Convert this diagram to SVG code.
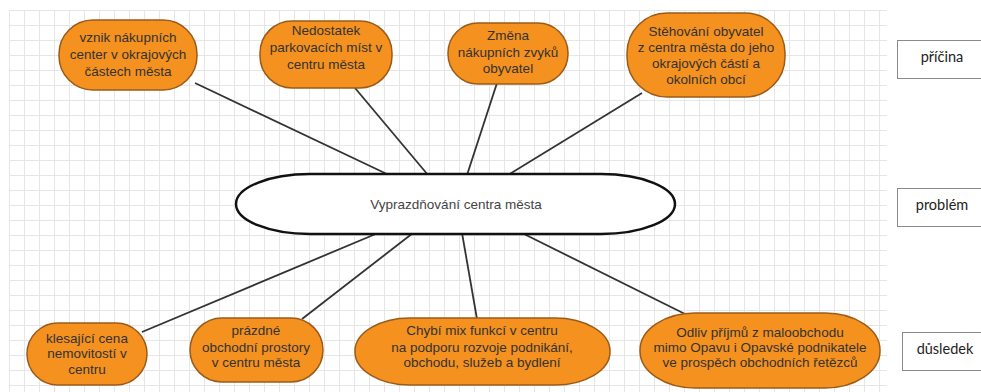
<svg xmlns="http://www.w3.org/2000/svg" width="981" height="392" viewBox="0 0 981 392">
<defs>
<pattern id="grid" x="9" y="10" width="15" height="15" patternUnits="userSpaceOnUse">
<path d="M0 0.5 H15 M0.5 0 V15" stroke="#e6e6e6" stroke-width="1" fill="none"/>
</pattern>
<style>
.node rect{fill:#F4911F;stroke:#9A5B1A;stroke-width:1.5}
.nt{font-family:"Liberation Sans",Arial,sans-serif;font-size:13.5px;fill:#333;text-anchor:middle}
.ct{font-family:"Liberation Sans",Arial,sans-serif;font-size:13.5px;fill:#444;text-anchor:middle}
.lab rect{fill:#fff;stroke:#8a8a8a;stroke-width:1}
.lt{font-family:Lato,"Open Sans",sans-serif;font-size:14.5px;fill:#222;text-anchor:middle}
.conn line{stroke:#333;stroke-width:1.8}
</style>
</defs>
<rect width="981" height="392" fill="#fff"/>
<rect x="9" y="10" width="878" height="382" fill="url(#grid)"/>

<g class="conn" id="connectors">
<line x1="195" y1="83" x2="389" y2="175"/>
<line x1="355" y1="88" x2="428" y2="175"/>
<line x1="497" y1="83" x2="467" y2="175"/>
<line x1="642" y1="93" x2="508" y2="175"/>
<line x1="378" y1="233" x2="142" y2="332"/>
<line x1="413" y1="233" x2="302" y2="319"/>
<line x1="462" y1="233" x2="477" y2="319"/>
<line x1="522" y1="233" x2="685" y2="314"/>
</g>

<g id="center">
<rect x="236" y="174" width="439" height="60" rx="74" ry="30" fill="#fff" stroke="#111" stroke-width="2.5"/>
<text class="ct" x="456" y="209">Vyprazdňování centra města</text>
</g>

<g class="node" id="n1">
<rect x="59" y="20" width="138" height="70" rx="34" ry="34"/>
<text class="nt" x="128" y="42">vznik nákupních</text>
<text class="nt" x="128" y="59">center v okrajových</text>
<text class="nt" x="128" y="76">částech města</text>
</g>
<g class="node" id="n2">
<rect x="260" y="21" width="132" height="67" rx="32" ry="32"/>
<text class="nt" x="326" y="35">Nedostatek</text>
<text class="nt" x="326" y="52">parkovacích míst v</text>
<text class="nt" x="326" y="69">centru města</text>
</g>
<g class="node" id="n3">
<rect x="448" y="23" width="120" height="61" rx="30" ry="30"/>
<text class="nt" x="508" y="40">Změna</text>
<text class="nt" x="508" y="57">nákupních zvyků</text>
<text class="nt" x="508" y="73">obyvatel</text>
</g>
<g class="node" id="n4">
<rect x="627" y="13" width="158" height="84" rx="40" ry="40"/>
<text class="nt" x="706" y="36">Stěhování obyvatel</text>
<text class="nt" x="706" y="52">z centra města do jeho</text>
<text class="nt" x="706" y="68">okrajových částí a</text>
<text class="nt" x="706" y="84">okolních obcí</text>
</g>

<g class="node" id="n5">
<rect x="27" y="323" width="120" height="62" rx="31" ry="31"/>
<text class="nt" x="87" y="343">klesající cena</text>
<text class="nt" x="87" y="358">nemovitostí v</text>
<text class="nt" x="87" y="374">centru</text>
</g>
<g class="node" id="n6">
<rect x="190" y="318" width="133" height="64" rx="32" ry="32"/>
<text class="nt" x="256" y="335">prázdné</text>
<text class="nt" x="256" y="352">obchodní prostory</text>
<text class="nt" x="256" y="367">v centru města</text>
</g>
<g class="node" id="n7">
<rect x="355" y="318" width="255" height="67" rx="55" ry="33"/>
<text class="nt" x="482" y="335">Chybí mix funkcí v centru</text>
<text class="nt" x="482" y="352">na podporu rozvoje podnikání,</text>
<text class="nt" x="482" y="367">obchodu, služeb a bydlení</text>
</g>
<g class="node" id="n8">
<rect x="640" y="313" width="240" height="75" rx="55" ry="37"/>
<text class="nt" x="760" y="337">Odliv příjmů z maloobchodu</text>
<text class="nt" x="760" y="352">mimo Opavu i Opavské podnikatele</text>
<text class="nt" x="760" y="367">ve prospěch obchodních řetězců</text>
</g>

<g class="lab" id="l1">
<rect x="897.5" y="40.5" width="90" height="38"/>
<text class="lt" x="942" y="62">příčina</text>
</g>
<g class="lab" id="l2">
<rect x="897.5" y="188.5" width="90" height="38"/>
<text class="lt" x="942" y="210">problém</text>
</g>
<g class="lab" id="l3">
<rect x="902.5" y="332.5" width="90" height="38"/>
<text class="lt" x="945" y="354">důsledek</text>
</g>
</svg>
